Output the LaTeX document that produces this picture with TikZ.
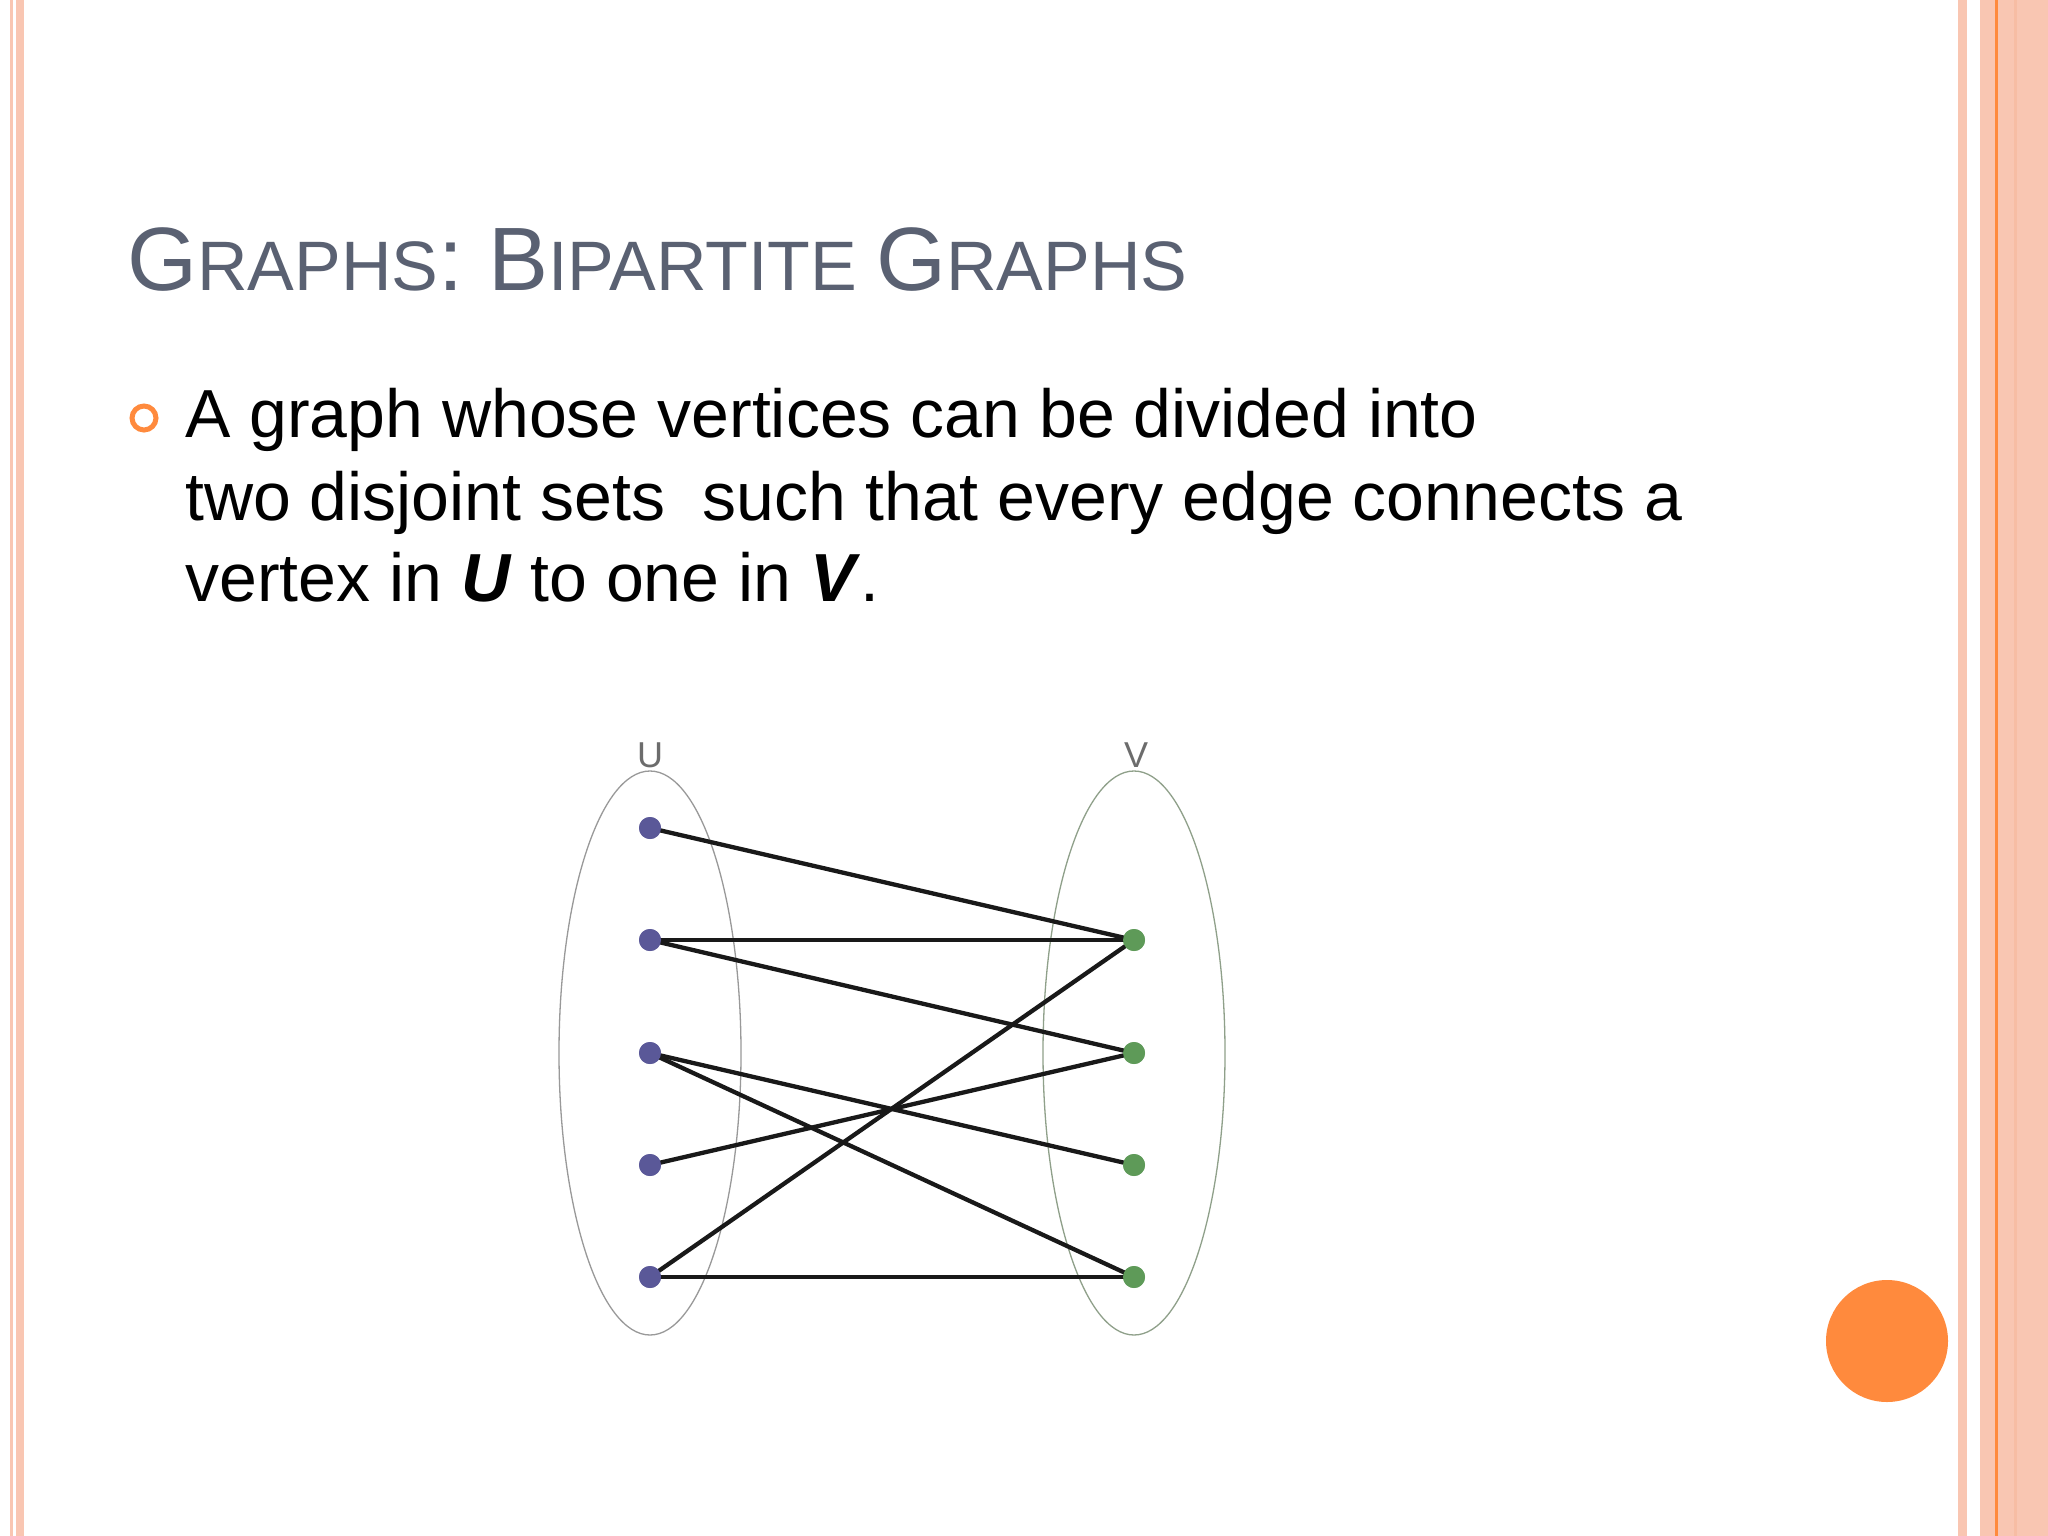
\documentclass[tikz,border=0pt]{standalone}
\usepackage{fontspec}
\setmainfont{Liberation Sans}
\definecolor{pinkA}{HTML}{F9C6B2}
\definecolor{pinkB}{HTML}{F7BDA4}
\definecolor{orng}{HTML}{FF8A3D}
\definecolor{ttl}{HTML}{5A6172}
\definecolor{uvc}{HTML}{5A5898}
\definecolor{vvc}{HTML}{5E9A58}
\definecolor{vell}{HTML}{8FA08A}
\begin{document}
\begin{tikzpicture}[x=1pt,y=-1pt,
  uv/.style={circle,fill=uvc,inner sep=0pt,minimum size=22pt},
  vv/.style={circle,fill=vvc,inner sep=0pt,minimum size=22pt},
  bodyline/.style={anchor=base west,inner sep=0pt,font=\fontsize{68}{80}\selectfont},
  ed/.style={line width=4.3pt,black!90}]
\useasboundingbox (0,0) rectangle (2048,1536);
\fill[white!97!green!2] (0,0) rectangle (2048,1536);
% left stripes
\fill[pinkA] (10,0) rectangle (13,1536);
\fill[pinkA] (16,0) rectangle (24,1536);
% right stripes
\fill[pinkA] (1958,0) rectangle (1967,1536);
\fill[pinkA] (1980,0) rectangle (2048,1536);
\fill[pinkB] (2014,0) rectangle (2017,1536);
\fill[orng] (1995,0) rectangle (1998,1536);
% title
\node[anchor=base west,inner sep=0pt,text=ttl] (title) at (127,290)
  {\fontsize{90}{90}\selectfont G\fontsize{70}{70}\selectfont RAPHS\fontsize{90}{90}\selectfont: B\fontsize{70}{70}\selectfont IPARTITE \fontsize{90}{90}\selectfont G\fontsize{70}{70}\selectfont RAPHS};
% bullet
\draw[orng,line width=5pt] (144,418) circle (12);
\node[bodyline] (b1) at (185,437) {A graph whose vertices can be divided into};
\node[bodyline] (b2) at (185,520) {two disjoint sets\ \ such that every edge connects a};
\node[bodyline] (b3) at (185,601) {vertex in \textbf{\textit{U}} to one in \textbf{\textit{V}}.};
% ellipses
\draw[gray!80,line width=1.3pt] (650,1053) ellipse (91 and 282);
\draw[vell,line width=1.3pt] (1134,1053) ellipse (91 and 282);
\node[text=gray!85!black,font=\fontsize{36}{36}\selectfont] (lu) at (650,755) {U};
\node[text=gray!85!black,font=\fontsize{36}{36}\selectfont] (lv) at (1136,755) {V};
% vertices
\node[uv] (u1) at (650,828) {};
\node[uv] (u2) at (650,940) {};
\node[uv] (u3) at (650,1053) {};
\node[uv] (u4) at (650,1165) {};
\node[uv] (u5) at (650,1277) {};
\node[vv] (v1) at (1134,940) {};
\node[vv] (v2) at (1134,1053) {};
\node[vv] (v3) at (1134,1165) {};
\node[vv] (v4) at (1134,1277) {};
\draw[ed] (u1.center) -- (v1.center);
\draw[ed] (u2.center) -- (v1.center);
\draw[ed] (u2.center) -- (v2.center);
\draw[ed] (u3.center) -- (v3.center);
\draw[ed] (u3.center) -- (v4.center);
\draw[ed] (u4.center) -- (v2.center);
\draw[ed] (u5.center) -- (v1.center);
\draw[ed] (u5.center) -- (v4.center);
\foreach \n in {u1,u2,u3,u4,u5}{\fill[uvc] (\n) circle (11);}
\foreach \n in {v1,v2,v3,v4}{\fill[vvc] (\n) circle (11);}
% orange disc
\fill[orng] (1887,1341) circle (61);
\end{tikzpicture}
\end{document}
